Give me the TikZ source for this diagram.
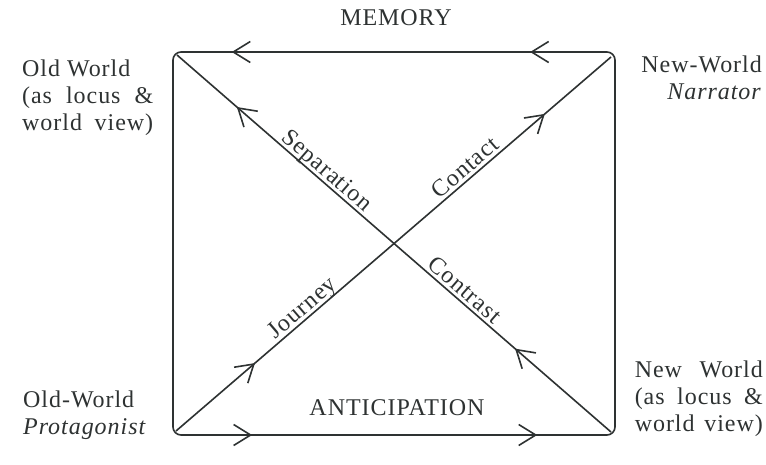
\documentclass[tikz,border=0pt]{standalone}
\usepackage{fontspec}
\setmainfont{Liberation Serif}[LetterSpace=4]
\usetikzlibrary{arrows.meta,decorations.markings}
\definecolor{ink}{HTML}{2E3232}
\tikzset{
  lbl/.style={text=ink, font=\fontsize{24}{27}\selectfont, inner sep=0pt},
  edge/.style={draw=ink, line width=1.6pt},
  >={Straight Barb[length=17pt,width=21pt,line width=1.6pt]},
  twomarks/.style 2 args={color=ink, postaction={decorate},
    decoration={markings, mark=at position #1 with {\arrow{>}},
                          mark=at position #2 with {\arrow{>}}}},
  diaglbl/.style={lbl, sloped, anchor=base, yshift=4pt}
}
\begin{document}
\begin{tikzpicture}[x=1pt,y=-1pt]
\fill[white] (0,0) rectangle (766,465);
\useasboundingbox (0,0) rectangle (766,465);
% frame corners
\coordinate (TL) at (173,52);
\coordinate (TR) at (615,52);
\coordinate (BR) at (615,435);
\coordinate (BL) at (173,435);
% diagonal ends
\coordinate (d1s) at (176,431);
\coordinate (d1e) at (611,57);
\coordinate (d2s) at (611,432);
\coordinate (d2e) at (177,55);
\draw[edge, rounded corners=8pt] (TL) -- (TR) -- (BR) -- (BL) -- cycle;
\path[twomarks={0.192}{0.867}] (TR) -- (TL);
\path[twomarks={0.179}{0.824}] (BL) -- (BR);
\draw[edge, twomarks={0.1816}{0.848}] (d1s) -- (d1e);
\draw[edge, twomarks={0.221}{0.862}] (d2s) -- (d2e);
% diagonal labels
\path (d1s) -- node[diaglbl, pos=0.307] (jou) {Journey}
                node[diaglbl, pos=0.682] (con) {Contact} (d1e);
\path (d2e) -- node[diaglbl, pos=0.3286] (sep) {Separation}
                node[diaglbl, pos=0.646] (ctr) {Contrast} (d2s);
% edge labels
\node[lbl, anchor=base] (mem) at (396,26) {MEMORY};
\node[lbl, anchor=base] (ant) at (397,415) {ANTICIPATION};
% corner labels
\node[lbl, anchor=north west, align=left] (owl) at (22,60)
  {Old World\\\makebox[131pt][s]{(as locus \&}\\\makebox[131pt][s]{world view)}};
\node[lbl, anchor=north east, align=right] (nwn) at (762,56)
  {New-World\\\textit{Narrator}};
\node[lbl, anchor=north west, align=left] (owp) at (23,391)
  {Old-World\\\textit{Protagonist}};
\node[lbl, anchor=north east, align=left] (nwl) at (763,361)
  {\makebox[128pt][s]{New World}\\\makebox[128pt][s]{(as locus \&}\\\makebox[128pt][s]{world view)}};
\end{tikzpicture}
\end{document}
